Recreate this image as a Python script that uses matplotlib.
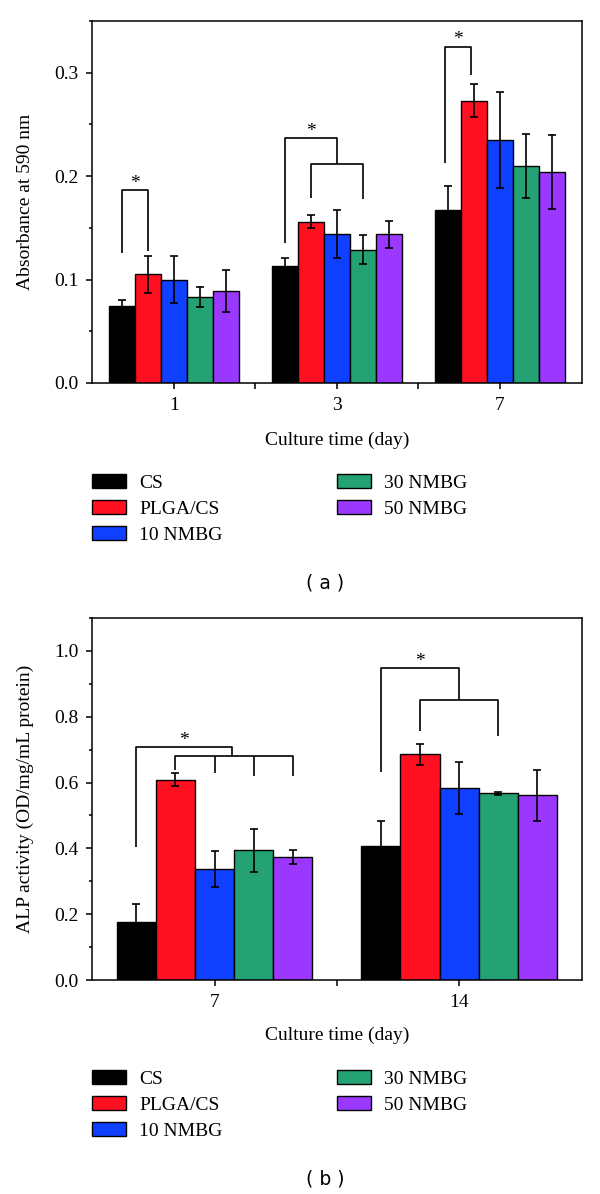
import numpy as np
import matplotlib
matplotlib.use("Agg")
import matplotlib.pyplot as plt
from matplotlib.ticker import MultipleLocator, FixedLocator

plt.rcParams["font.family"] = ["Liberation Serif", "DejaVu Serif"]
plt.rcParams["font.size"] = 14

GROUPS = ["CS", "PLGA/CS", "10 NMBG", "30 NMBG", "50 NMBG"]
COLORS = ["#000000", "#FF1020", "#1040FF", "#24A273", "#9A38FF"]

# (a) absorbance at 590 nm, days 1, 3, 7
DAYS_A = ["1", "3", "7"]
ABS_MEAN = [
    [0.074, 0.113, 0.167],
    [0.105, 0.156, 0.273],
    [0.100, 0.144, 0.235],
    [0.083, 0.129, 0.210],
    [0.089, 0.144, 0.204],
]
ABS_ERR = [
    [0.006, 0.008, 0.023],
    [0.018, 0.006, 0.016],
    [0.023, 0.023, 0.046],
    [0.010, 0.014, 0.031],
    [0.020, 0.013, 0.036],
]

# (b) ALP activity, days 7, 14
DAYS_B = ["7", "14"]
ALP_MEAN = [
    [0.176, 0.408],
    [0.609, 0.686],
    [0.337, 0.583],
    [0.394, 0.567],
    [0.374, 0.561],
]
ALP_ERR = [
    [0.056, 0.075],
    [0.020, 0.032],
    [0.055, 0.079],
    [0.066, 0.005],
    [0.021, 0.077],
]

W, H = 600, 1194
BAR_W = 0.16


def add_ax(fig, left, top, right, bottom):
    return fig.add_axes([left / W, 1 - bottom / H, (right - left) / W, (bottom - top) / H])


def pos(g, i):
    return g + (i - 2) * BAR_W


def draw_bars(ax, means, errs, ndays):
    x = np.arange(ndays)
    for i, (m, e, c) in enumerate(zip(means, errs, COLORS)):
        ax.bar(x + (i - 2) * BAR_W, m, width=BAR_W, color=c, edgecolor="black",
               linewidth=1.0, label=GROUPS[i], zorder=2,
               yerr=e, capsize=3.2,
               error_kw=dict(elinewidth=1.2, capthick=1.2, ecolor="black", zorder=3))
    ax.set_xlim(-0.5, ndays - 0.5)
    ax.set_xticks(x)
    ax.xaxis.set_minor_locator(FixedLocator(np.arange(ndays - 1) + 0.5))


def style(ax):
    for s in ax.spines.values():
        s.set_linewidth(1.1)
    ax.tick_params(which="major", direction="out", length=4, width=1.1, pad=6, labelsize=14)
    ax.tick_params(which="minor", direction="out", length=2.5, width=1.1)
    ax.tick_params(axis="x", which="minor", length=4)


def line(ax, xs, ys):
    ax.plot(xs, ys, color="black", lw=1.2, zorder=4, solid_capstyle="butt")


def star(ax, x, y):
    ax.text(x, y, "*", ha="center", va="center", fontsize=14, zorder=5)


def add_legend(fig, ax, top_px):
    fig.legend(*ax.get_legend_handles_labels(), loc="upper left",
               bbox_to_anchor=(92.3 / W, 1 - top_px / H), ncol=2, frameon=False,
               borderpad=0, borderaxespad=0, handlelength=1.75, handleheight=0.7,
               handletextpad=0.65, labelspacing=0.44, columnspacing=5.9, fontsize=14)


fig = plt.figure(figsize=(W / 100, H / 100), dpi=100)

# ---- panel (a)
ax1 = add_ax(fig, 92.3, 21, 581.5, 383)
draw_bars(ax1, ABS_MEAN, ABS_ERR, len(DAYS_A))
ax1.set_xticklabels(DAYS_A)
ax1.set_ylim(0, 0.35)
ax1.yaxis.set_major_locator(MultipleLocator(0.1))
ax1.yaxis.set_minor_locator(MultipleLocator(0.05))
ax1.yaxis.set_major_formatter(lambda v, p: f"{v:.1f}")
ax1.set_ylabel("Absorbance at 590 nm")
ax1.set_xlabel("Culture time (day)", labelpad=13)
ax1.yaxis.set_label_coords(-0.12, 0.5)
style(ax1)

# significance brackets (a)
line(ax1, [pos(0, 0)] * 2 + [pos(0, 1)] * 2, [0.126, 0.1865, 0.1865, 0.128])
star(ax1, (pos(0, 0) + pos(0, 1)) / 2, 0.193)
line(ax1, [pos(1, 0), pos(1, 0), pos(1, 2), pos(1, 2)], [0.1356, 0.2364, 0.2364, 0.2113])
line(ax1, [pos(1, 1), pos(1, 1), pos(1, 3), pos(1, 3)], [0.1787, 0.2113, 0.2113, 0.178])
star(ax1, (pos(1, 0) + pos(1, 2)) / 2, 0.2434)
line(ax1, [pos(2, 0) - 0.02] * 2 + [pos(2, 1) - 0.02] * 2, [0.213, 0.325, 0.325, 0.298])
star(ax1, (pos(2, 0) + pos(2, 1)) / 2 - 0.02, 0.332)

add_legend(fig, ax1, 474)
fig.text(325 / W, 1 - 583 / H, "( a )", ha="center", va="center",
         fontsize=13.5, family="DejaVu Sans")

# ---- panel (b)
ax2 = add_ax(fig, 92.3, 617.7, 581.5, 980.3)
draw_bars(ax2, ALP_MEAN, ALP_ERR, len(DAYS_B))
ax2.set_xticklabels(DAYS_B)
ax2.set_ylim(0, 1.1)
ax2.yaxis.set_major_locator(MultipleLocator(0.2))
ax2.yaxis.set_minor_locator(MultipleLocator(0.1))
ax2.yaxis.set_major_formatter(lambda v, p: f"{v:.1f}")
ax2.set_ylabel("ALP activity (OD/mg/mL protein)")
ax2.set_xlabel("Culture time (day)", labelpad=11)
ax2.yaxis.set_label_coords(-0.12, 0.5)
style(ax2)

# significance brackets (b)
line(ax2, [pos(0, 0), pos(0, 0), 0.07, 0.07], [0.405, 0.708, 0.708, 0.6806])
line(ax2, [pos(0, 1), pos(0, 1), pos(0, 4), pos(0, 4)], [0.639, 0.6806, 0.6806, 0.619])
line(ax2, [pos(0, 2)] * 2, [0.6806, 0.629])
line(ax2, [pos(0, 3)] * 2, [0.6806, 0.619])
star(ax2, (pos(0, 0) + 0.07) / 2, 0.728)
line(ax2, [pos(1, 0), pos(1, 0), pos(1, 2), pos(1, 2)], [0.632, 0.9485, 0.9485, 0.850])
line(ax2, [pos(1, 1), pos(1, 1), pos(1, 3), pos(1, 3)], [0.756, 0.850, 0.850, 0.740])
star(ax2, (pos(1, 0) + pos(1, 2)) / 2, 0.968)

add_legend(fig, ax2, 1070)
fig.text(325 / W, 1 - 1179 / H, "( b )", ha="center", va="center",
         fontsize=13.5, family="DejaVu Sans")

fig.savefig("out.png", dpi=100)
